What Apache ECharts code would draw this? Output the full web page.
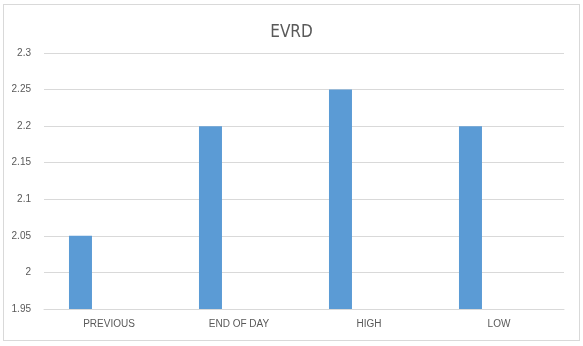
<!DOCTYPE html>
<html>
<head>
<meta charset="utf-8">
<script src="https://cdn.jsdelivr.net/npm/echarts@6/dist/echarts.min.js"></script>
<style>
  html, body { margin: 0; padding: 0; background: #fff; }
  #frame { position: absolute; left: 3px; top: 4px; width: 577px; height: 337px; border: 1px solid #d9d9d9; box-sizing: border-box; }
  #chart { position: absolute; left: 0; top: 0; width: 583px; height: 346px; }
</style>
</head>
<body>
<div id="frame"></div>
<div id="chart"></div>
<script>
// EVRD price snapshot
const chartTitle = 'EVRD';
const categories = ['PREVIOUS', 'END OF DAY', 'HIGH', 'LOW'];
const priceValues = [2.05, 2.2, 2.25, 2.2];
const emptySeries = [null, null, null, null];
const yMin = 1.95;
const yMax = 2.3;
const yStep = 0.05;

const textColor = '#595959';
const lineColor = '#d9d9d9';
const labelFont = '"Liberation Sans", Arial, sans-serif';

const chart = echarts.init(document.getElementById('chart'), null, { renderer: 'canvas' });
chart.setOption({
  animation: false,
  backgroundColor: 'transparent',
  title: {
    text: chartTitle,
    left: 'center',
    top: 19,
    textStyle: { color: textColor, fontSize: 17, fontWeight: 'normal', fontFamily: '"DejaVu Sans Condensed", "Liberation Sans", sans-serif' }
  },
  grid: { left: 44, right: 19, top: 53, bottom: 37 },
  xAxis: {
    type: 'category',
    data: categories,
    axisLine: { lineStyle: { color: lineColor, width: 1 } },
    axisTick: { show: false },
    axisLabel: { color: textColor, fontSize: 10, margin: 10, fontFamily: labelFont }
  },
  yAxis: {
    type: 'value',
    min: yMin,
    max: yMax,
    interval: yStep,
    axisLine: { show: false },
    axisTick: { show: false },
    splitLine: { lineStyle: { color: lineColor, width: 1 } },
    axisLabel: { color: textColor, fontSize: 10, margin: 13, fontFamily: labelFont }
  },
  series: [
    {
      type: 'bar',
      data: priceValues,
      barWidth: 23,
      barGap: '148%',
      itemStyle: { color: '#5b9bd5' }
    },
    {
      type: 'bar',
      data: emptySeries,
      barWidth: 23,
      itemStyle: { color: '#ed7d31' }
    }
  ]
});
</script>
</body>
</html>
